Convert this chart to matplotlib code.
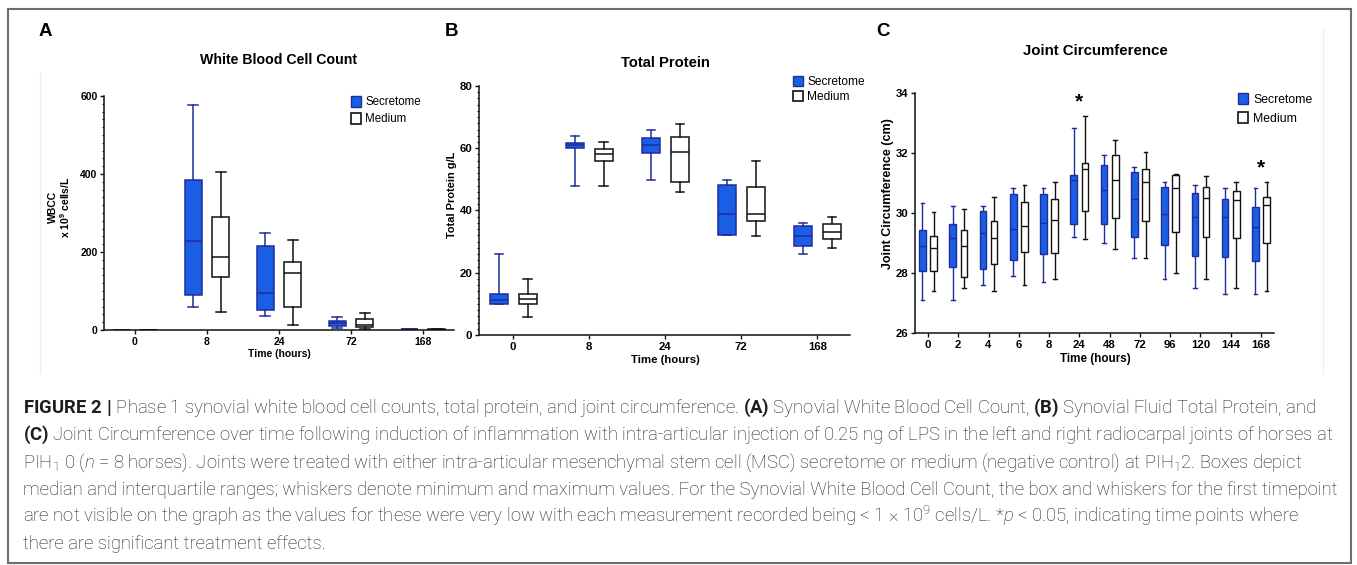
import matplotlib
matplotlib.use('Agg')
import matplotlib.pyplot as plt
from matplotlib.patches import Patch, Rectangle
from matplotlib.lines import Line2D
from matplotlib.ticker import MultipleLocator, FixedLocator

W, H = 1357, 565
plt.rcParams['font.family'] = ['Liberation Sans', 'DejaVu Sans']
plt.rcParams['mathtext.fontset'] = 'custom'
plt.rcParams['mathtext.default'] = 'regular'
plt.rcParams['mathtext.rm'] = 'Roboto:weight=light'
plt.rcParams['mathtext.bf'] = 'Roboto:weight=bold'
plt.rcParams['mathtext.it'] = 'Roboto:style=italic:weight=light'
plt.rcParams['mathtext.sf'] = 'Roboto'
plt.rcParams['mathtext.tt'] = 'DejaVu Sans Mono'
plt.rcParams['mathtext.cal'] = 'Roboto'

# ---------------- data: [min, q1, median, q3, max] ----------------
wbc_times = ['0', '8', '24', '72', '168']
wbc_secretome = [[0.3, 0.5, 0.7, 0.9, 1.2], [59, 91, 229, 384, 578], [35, 51, 96, 216, 248],
                 [5, 9, 18, 24, 33], [1, 1.5, 2, 2.5, 3]]
wbc_medium = [[0.2, 0.4, 0.5, 0.7, 1.0], [45, 135, 187, 291, 406], [12, 58, 145, 174, 230],
              [3, 7, 14, 28, 44], [0.5, 0.8, 1, 1.3, 1.8]]

tp_times = ['0', '8', '24', '72', '168']
tp_secretome = [[10, 10, 11.1, 13.1, 26], [47.9, 60.2, 61, 61.7, 63.9], [49.8, 58.6, 61, 63.2, 65.9],
                [32.1, 32.1, 38.9, 48.2, 49.9], [25.9, 28.6, 31.9, 35, 36]]
tp_medium = [[5.9, 9.9, 11.5, 13.1, 17.9], [47.9, 56, 58, 59.8, 61.9], [45.9, 49.2, 58.8, 63.6, 67.9],
             [31.9, 36.7, 38.9, 47.6, 55.9], [27.9, 30.7, 33, 35.7, 37.8]]

jc_times = ['0', '2', '4', '6', '8', '24', '48', '72', '96', '120', '144', '168']
jc_secretome = [[27.09, 28.08, 28.90, 29.43, 30.32], [27.09, 28.19, 29.17, 29.63, 30.22],
                [27.59, 28.15, 29.32, 30.06, 30.22], [27.89, 28.44, 29.46, 30.63, 30.82],
                [27.69, 28.65, 29.66, 30.62, 30.82], [29.19, 29.62, 31.11, 31.26, 32.83],
                [29.00, 29.62, 30.76, 31.60, 31.92], [28.50, 29.20, 30.46, 31.36, 31.52],
                [27.79, 28.92, 29.96, 30.86, 31.02], [27.49, 28.58, 29.86, 30.68, 30.92],
                [27.29, 28.55, 29.86, 30.48, 30.82], [27.29, 28.39, 29.55, 30.21, 30.82]]
jc_medium = [[27.39, 28.08, 28.85, 29.25, 30.02], [27.49, 27.86, 28.90, 29.43, 30.12],
             [27.39, 28.30, 29.16, 29.72, 30.52], [27.59, 28.69, 29.56, 30.38, 30.92],
             [27.79, 28.68, 29.76, 30.48, 31.02], [29.12, 30.06, 31.46, 31.66, 33.22],
             [28.80, 29.85, 31.11, 31.93, 32.42], [28.50, 29.72, 31.02, 31.47, 32.02],
             [27.99, 29.36, 30.82, 31.26, 31.31], [27.79, 29.20, 30.51, 30.87, 31.22],
             [27.49, 29.17, 30.43, 30.73, 31.02], [27.39, 29.00, 30.26, 30.53, 31.02]]
jc_significant = ['24', '168']
series_labels = ['Secretome', 'Medium']

SEC_FACE = '#1a5ee6'
SEC_EDGE = '#1f2d9c'
MED_FACE = '#ffffff'
MED_EDGE = '#111111'

fig = plt.figure(figsize=(W / 100, H / 100), dpi=100)


def fx(px):
    return px / W


def fy(py):
    return 1 - py / H


def add_ax(x0, y0, x1, y1):
    return fig.add_axes([fx(x0), fy(y1), (x1 - x0) / W, (y1 - y0) / H])


def stats_of(rows):
    return [dict(whislo=r[0], q1=r[1], med=r[2], q3=r[3], whishi=r[4], fliers=[]) for r in rows]


def draw_boxes(ax, rows, offset, width, capw, face, edge, lw):
    pos = [i + offset for i in range(len(rows))]
    ax.bxp(stats_of(rows), positions=pos, widths=width, capwidths=capw, patch_artist=True,
           showfliers=False,
           boxprops=dict(facecolor=face, edgecolor=edge, linewidth=lw),
           medianprops=dict(color=edge, linewidth=lw),
           whiskerprops=dict(color=edge, linewidth=lw),
           capprops=dict(color=edge, linewidth=lw))


def style_ax(ax, times, tsize, ylim, major, minor=None):
    for s in ['top', 'right']:
        ax.spines[s].set_visible(False)
    for s in ['left', 'bottom']:
        ax.spines[s].set_linewidth(1.1)
        ax.spines[s].set_color('#111111')
    ax.set_ylim(*ylim)
    ax.xaxis.set_major_locator(FixedLocator(range(len(times))))
    ax.set_xticklabels(times)
    ax.yaxis.set_major_locator(MultipleLocator(major))
    if minor:
        ax.yaxis.set_minor_locator(MultipleLocator(minor))
    ax.tick_params(axis='both', which='major', length=3.2, width=1.0, color='#111111',
                   labelsize=tsize, pad=1.5)
    ax.tick_params(axis='y', which='minor', length=1.8, width=0.8, color='#111111')
    for lab in ax.get_xticklabels() + ax.get_yticklabels():
        lab.set_fontweight('bold')
    ax.patch.set_alpha(0)


def add_legend(ax, x, ytop, fs, hl, hh, sp, tp):
    handles = [Patch(facecolor=SEC_FACE, edgecolor=SEC_EDGE, linewidth=1.0),
               Patch(facecolor=MED_FACE, edgecolor=MED_EDGE, linewidth=1.2)]
    ax.legend(handles, series_labels, loc='upper left', bbox_to_anchor=(fx(x), fy(ytop)),
              bbox_transform=fig.transFigure, frameon=False, fontsize=fs, handlelength=hl,
              handleheight=hh, handletextpad=tp, labelspacing=sp, borderpad=0, borderaxespad=0)


# ---------------- Panel A ----------------
axA = add_ax(104, 96, 454, 330)
draw_boxes(axA, wbc_secretome, -0.19, 0.23, 0.14, SEC_FACE, SEC_EDGE, 1.1)
draw_boxes(axA, wbc_medium, 0.19, 0.23, 0.14, MED_FACE, MED_EDGE, 1.1)
axA.set_xlim(-0.43, 4.43)
style_ax(axA, wbc_times, 7.5, (0, 600), 200, 20)
add_legend(axA, 351, 96, 8.3, 0.87, 1.05, 0.42, 0.38)

# ---------------- Panel B ----------------
axB = add_ax(479, 86, 850, 335)
draw_boxes(axB, tp_secretome, -0.19, 0.24, 0.11, SEC_FACE, SEC_EDGE, 1.1)
draw_boxes(axB, tp_medium, 0.19, 0.24, 0.11, MED_FACE, MED_EDGE, 1.1)
axB.set_xlim(-0.45, 4.43)
style_ax(axB, tp_times, 8.2, (0, 80), 20, 2)
add_legend(axB, 793, 76, 8.6, 0.8, 0.95, 0.22, 0.38)

# ---------------- Panel C ----------------
axC = add_ax(915, 93, 1274, 333)
draw_boxes(axC, jc_secretome, -0.185, 0.22, 0.12, SEC_FACE, SEC_EDGE, 1.0)
draw_boxes(axC, jc_medium, 0.185, 0.22, 0.12, MED_FACE, MED_EDGE, 1.0)
axC.set_xlim(-0.43, 11.43)
style_ax(axC, jc_times, 8.2, (26, 34), 2)
add_legend(axC, 1238, 93, 8.8, 0.85, 1.05, 0.5, 0.38)
for t in jc_significant:
    i = jc_times.index(t)
    top = max(jc_secretome[i][4], jc_medium[i][4])
    axC.annotate('*', xy=(i, top), xytext=(0, 10.5), textcoords='offset points',
                 ha='center', va='center', fontsize=15, fontweight='bold')

# ---------------- Panel texts ----------------
for lx, letter in [(45, 'A'), (451, 'B'), (883, 'C')]:
    fig.text(fx(lx), fy(32), letter, ha='center', va='center', fontsize=13.5, fontweight='bold')

fig.text(fx(279), fy(60), 'White Blood Cell Count', ha='center', va='center', fontsize=10.2, fontweight='bold')
fig.text(fx(665), fy(63), 'Total Protein', ha='center', va='center', fontsize=10.6, fontweight='bold')
fig.text(fx(1095), fy(51), 'Joint Circumference', ha='center', va='center', fontsize=10.8, fontweight='bold')

fig.text(fx(60), fy(207), 'WBCC\nx 10$^9$ cells/L', ha='center', va='center', rotation=90,
         fontsize=7.5, fontweight='bold', multialignment='center', linespacing=1.1)
fig.text(fx(452), fy(195), 'Total Protein g/L', ha='center', va='center', rotation=90,
         fontsize=7.9, fontweight='bold')
fig.text(fx(888), fy(194), 'Joint Circumference (cm)', ha='center', va='center', rotation=90,
         fontsize=9.0, fontweight='bold')

fig.text(fx(279), fy(354), 'Time (hours)', ha='center', va='center', fontsize=7.5, fontweight='bold')
fig.text(fx(665), fy(360), 'Time (hours)', ha='center', va='center', fontsize=8.2, fontweight='bold')
fig.text(fx(1095), fy(359), 'Time (hours)', ha='center', va='center', fontsize=8.4, fontweight='bold')

# ---------------- frames ----------------
fig.add_artist(Rectangle((fx(8), fy(563)), (1351 - 8) / W, (563 - 9) / H, transform=fig.transFigure,
                         fill=False, edgecolor='#6e6e6e', linewidth=1.5))
fig.add_artist(Line2D([fx(40), fx(40)], [fy(72), fy(373)], transform=fig.transFigure,
                      color='#eeeeee', linewidth=1.0))
fig.add_artist(Line2D([fx(1323), fx(1323)], [fy(30), fy(373)], transform=fig.transFigure,
                      color='#eeeeee', linewidth=1.0))

# ---------------- caption ----------------
caption_lines = [
    r"$\mathbf{FIGURE\ 2\ |}$ Phase 1 synovial white blood cell counts, total protein, and joint circumference. "
    r"$\mathbf{(A)}$ Synovial White Blood Cell Count, $\mathbf{(B)}$ Synovial Fluid Total Protein, and",
    r"$\mathbf{(C)}$ Joint Circumference over time following induction of inflammation with intra-articular "
    r"injection of 0.25 ng of LPS in the left and right radiocarpal joints of horses at",
    r"PIH$_1$ 0 ($\mathit{n}$ = 8 horses). Joints were treated with either intra-articular mesenchymal stem cell "
    r"(MSC) secretome or medium (negative control) at PIH$_1$2. Boxes depict",
    r"median and interquartile ranges; whiskers denote minimum and maximum values. For the Synovial White "
    r"Blood Cell Count, the box and whiskers for the first timepoint",
    r"are not visible on the graph as the values for these were very low with each measurement recorded "
    r"being < 1 × 10$^9$ cells/L. *$\mathit{p}$ < 0.05, indicating time points where",
    r"there are significant treatment effects.",
]
for k, line in enumerate(caption_lines):
    fig.text(fx(23), fy(413 + 27.2 * k), line, ha='left', va='baseline', fontsize=13.35,
             family=['Roboto', 'DejaVu Sans'], fontweight='light', color='#1e1e1e')

fig.savefig('out.png', dpi=100)
